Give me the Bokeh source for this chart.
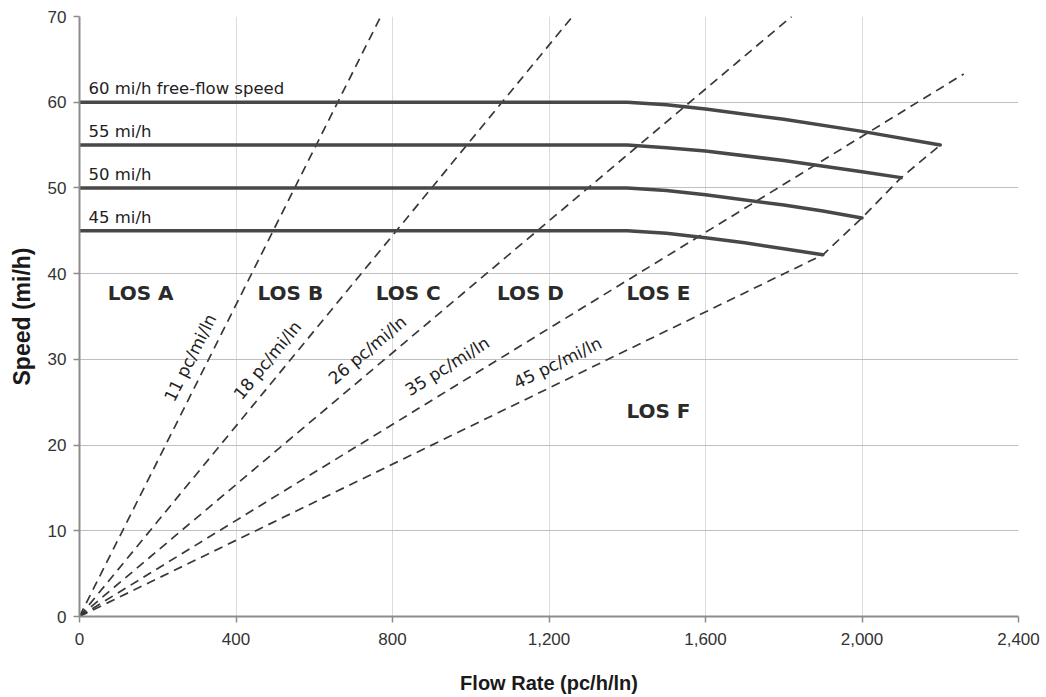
import math
from bokeh.plotting import figure
from bokeh.models import Range1d, NumeralTickFormatter, FixedTicker
from bokeh.core.properties import value
from bokeh.embed import file_html
from bokeh.resources import INLINE

# ---- data ----
x_ticks = [0, 400, 800, 1200, 1600, 2000, 2400]
y_ticks = [0, 10, 20, 30, 40, 50, 60, 70]

flow_60 = [0, 1400, 1500, 1600, 1800, 2000, 2200]
speed_60 = [60, 60, 59.7, 59.2, 58.0, 56.6, 55.0]
flow_55 = [0, 1400, 1500, 1600, 1800, 2000, 2100]
speed_55 = [55, 55, 54.7, 54.3, 53.2, 51.9, 51.2]
flow_50 = [0, 1400, 1500, 1600, 1800, 1900, 2000]
speed_50 = [50, 50, 49.7, 49.2, 48.0, 47.3, 46.5]
flow_45 = [0, 1400, 1500, 1600, 1700, 1800, 1900]
speed_45 = [45, 45, 44.7, 44.2, 43.6, 42.9, 42.2]
curve_labels = ["60 mi/h free-flow speed", "55 mi/h", "50 mi/h", "45 mi/h"]

densities = [11, 18, 26, 35, 45]
density_labels = ["11 pc/mi/ln", "18 pc/mi/ln", "26 pc/mi/ln", "35 pc/mi/ln", "45 pc/mi/ln"]
density_end_flow = [770, 1260, 1820, 2260]
density_end_speed = [70, 70, 70, 63.3]
# LOS E / F boundary: 45 pc/mi/ln up to the capacity points
boundary_flow = [0, 1900, 2000, 2100, 2200]
boundary_speed = [0, 42.2, 46.5, 51.2, 55.0]

los_labels = ["LOS A", "LOS B", "LOS C", "LOS D", "LOS E", "LOS F"]

# ---- layout ----
W, H = 1046, 697
BL, BT = 79, 16
frame_w, frame_h = 939, 600
BR = W - BL - frame_w
BB = H - BT - frame_h

p = figure(width=W, height=H, output_backend="svg", toolbar_location=None,
           x_range=Range1d(0, 2400), y_range=Range1d(0, 70),
           min_border_left=BL, min_border_right=BR, min_border_top=BT, min_border_bottom=BB)
p.outline_line_color = None
p.background_fill_color = "white"

tick_font = "Liberation Sans"
for ax in (p.xaxis[0], p.yaxis[0]):
    ax.axis_line_color = "#8c8c8c"
    ax.axis_line_width = 2
    ax.major_tick_line_color = "#8c8c8c"
    ax.major_tick_line_width = 1.5
    ax.major_tick_out = 6
    ax.major_tick_in = 0
    ax.minor_tick_line_color = None
    ax.major_label_text_font = tick_font
    ax.major_label_text_font_size = "17px"
    ax.major_label_text_color = "#333333"
    ax.axis_label_text_font = tick_font
    ax.axis_label_text_font_style = "bold"
    ax.axis_label_text_color = "#1a1a1a"

p.xaxis.axis_label_text_font_size = "20px"
p.yaxis.axis_label_text_font_size = "23px"
p.xaxis.ticker = FixedTicker(ticks=x_ticks)
p.yaxis.ticker = FixedTicker(ticks=y_ticks)
p.xaxis.formatter = NumeralTickFormatter(format="0,0")
p.xaxis.axis_label = "Flow Rate (pc/h/ln)"
p.yaxis.axis_label = "Speed (mi/h)"
p.xaxis.major_label_standoff = 10
p.yaxis.major_label_standoff = 7
p.xaxis.axis_label_standoff = 24
p.yaxis.axis_label_standoff = 10

p.xgrid.grid_line_color = "#dcdcdc"
p.xgrid.grid_line_width = 1
p.ygrid.grid_line_color = "#c0c0c0"
p.ygrid.grid_line_width = 1.2

# ---- dashed density lines ----
dash_color = "#383838"
for fe, se in zip(density_end_flow, density_end_speed):
    p.line([0, fe], [0, se], line_color=dash_color, line_width=1.7, line_dash="9 6")
p.line(boundary_flow, boundary_speed, line_color=dash_color, line_width=1.7, line_dash="9 6")

# ---- speed-flow curves ----
curve_color = "#484848"
for fl, sp in [(flow_60, speed_60), (flow_55, speed_55), (flow_50, speed_50), (flow_45, speed_45)]:
    p.line(fl, sp, line_color=curve_color, line_width=3.5, line_join="round", line_cap="round")

# curve labels
lbl_speeds = [speed_60[0], speed_55[0], speed_50[0], speed_45[0]]
p.text(x=[23] * 4, y=[s + 0.45 for s in lbl_speeds], text=curve_labels,
       text_font=value("DejaVu Sans"), text_font_size="16.5px", text_color="#222222",
       text_align="left", text_baseline="bottom")

# LOS labels
los_x = [72, 455, 757, 1067, 1398, 1398]
los_y = [37.7, 37.7, 37.7, 37.7, 37.7, 24.0]
p.text(x=los_x, y=los_y, text=los_labels, text_font=value("DejaVu Sans"),
       text_font_style="bold", text_font_size="20px", text_color="#2a2a2a",
       text_align="left", text_baseline="middle")

# density labels rotated along the lines
px_per_flow = frame_w / 2400.0
px_per_speed = frame_h / 70.0
angles = [math.atan((1.0 / d) * px_per_speed / px_per_flow) for d in densities]
dl_x = [283, 480, 736, 940, 1222]
dl_y = [30.2, 29.9, 31.1, 29.2, 29.6]
p.text(x=dl_x, y=dl_y, text=density_labels, angle=angles,
       text_font=value("DejaVu Sans"), text_font_size="17px", text_color="#222222",
       text_align="center", text_baseline="middle")

open("out.html", "w").write(file_html(p, INLINE))
